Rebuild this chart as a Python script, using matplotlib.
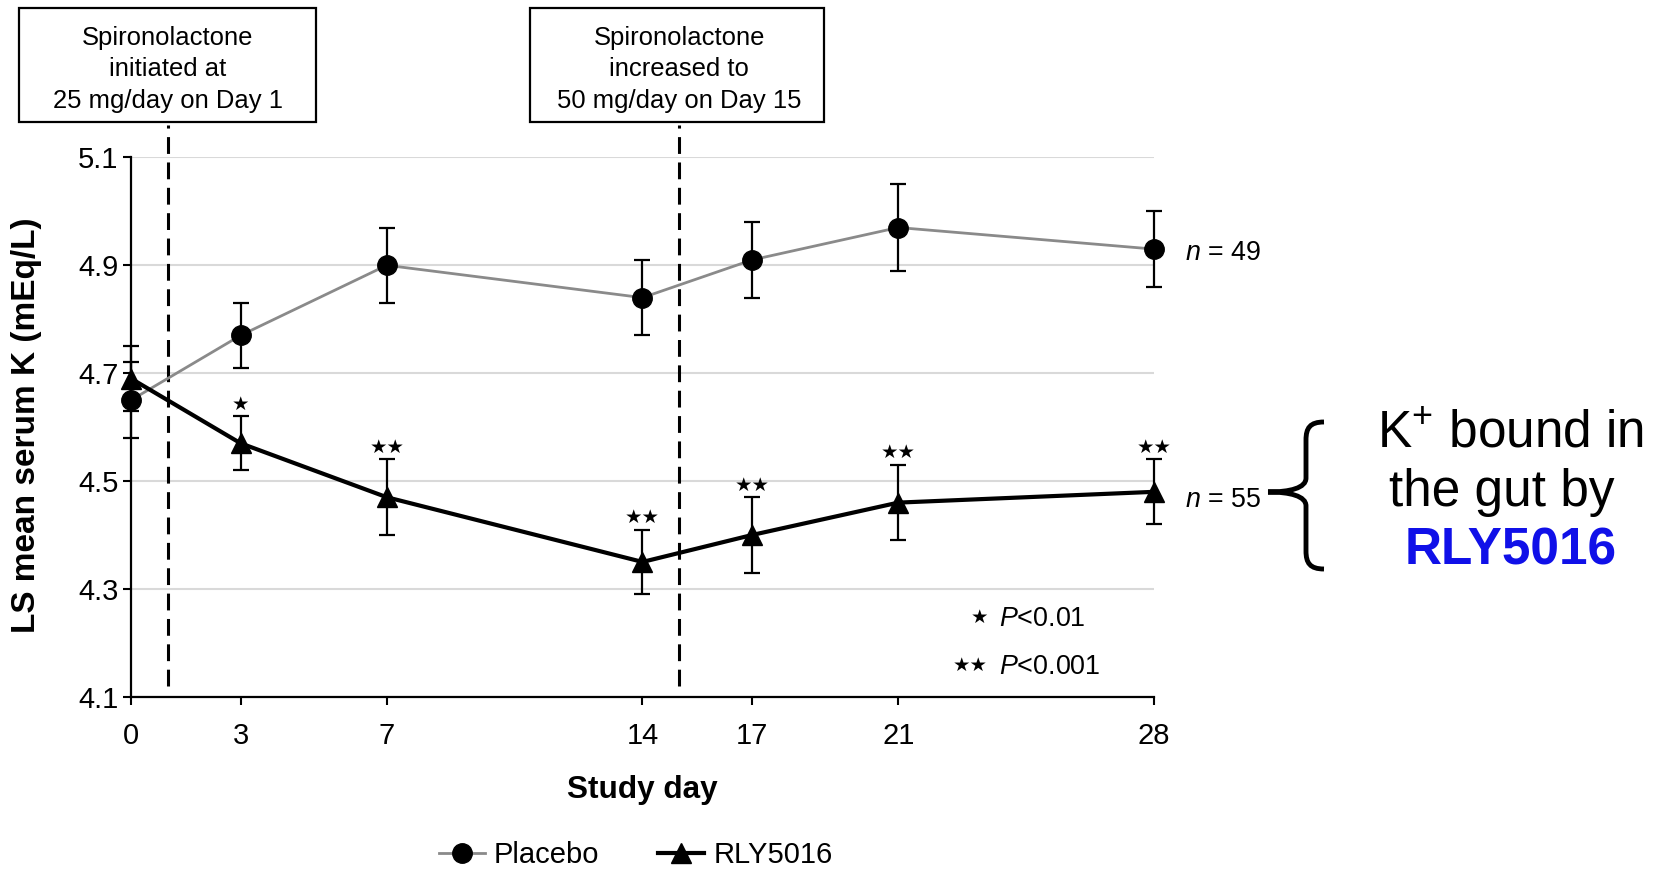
import matplotlib
matplotlib.use("Agg")
import matplotlib.pyplot as plt
import matplotlib.font_manager as fm
from matplotlib.lines import Line2D
from matplotlib.patches import Rectangle, PathPatch
from matplotlib.path import Path
from matplotlib.transforms import Affine2D

# ---------------- data ----------------
days = [0, 3, 7, 14, 17, 21, 28]
placebo_mean = [4.65, 4.77, 4.90, 4.84, 4.91, 4.97, 4.93]
placebo_err = [0.07, 0.06, 0.07, 0.07, 0.07, 0.08, 0.07]
rly_mean = [4.69, 4.57, 4.47, 4.35, 4.40, 4.46, 4.48]
rly_err = [0.06, 0.05, 0.07, 0.06, 0.07, 0.07, 0.06]
rly_sig = ["", "\u2605", "\u2605\u2605", "\u2605\u2605", "\u2605\u2605",
           "\u2605\u2605", "\u2605\u2605"]
yticks = [4.1, 4.3, 4.5, 4.7, 4.9, 5.1]
ytick_labels = ["4.1", "4.3", "4.5", "4.7", "4.9", "5.1"]
event_days = [1, 15]
event_texts = ["Spironolactone\ninitiated at\n25 mg/day on Day 1",
               "Spironolactone\nincreased to\n50 mg/day on Day 15"]
n_placebo = 49
n_rly = 55

# ---------------- fonts ----------------
avail = {f.name for f in fm.fontManager.ttflist}
if "Liberation Sans Narrow" in avail:
    NARROW, k = "Liberation Sans Narrow", 1.0
else:
    NARROW, k = "Liberation Sans", 0.84
REG = "Liberation Sans"
STAR = "DejaVu Sans"
plt.rcParams["font.family"] = [NARROW, "DejaVu Sans"]
plt.rcParams["mathtext.fontset"] = "custom"
plt.rcParams["mathtext.it"] = NARROW + ":italic"
plt.rcParams["mathtext.rm"] = NARROW

W, H = 1668, 869
fig = plt.figure(figsize=(W / 100, H / 100), dpi=100)
ax = fig.add_axes([131 / W, 1 - 696.8 / H, 1023 / W, 539.4 / H])

# grid
ax.set_axisbelow(True)
ax.yaxis.grid(True, color="#d9d9d9", lw=1.5)

# placebo
ax.plot(days, placebo_mean, color="#8a8a8a", lw=2.0, marker="o", ms=14,
        mfc="black", mec="black", zorder=3, clip_on=False)
ax.errorbar(days, placebo_mean, yerr=placebo_err, fmt="none", ecolor="black",
            elinewidth=1.6, capsize=5.5, capthick=1.6, zorder=2, clip_on=False)
# RLY5016
ax.plot(days, rly_mean, color="black", lw=3.0, marker="^", ms=14,
        mfc="black", mec="black", zorder=4, clip_on=False)
ax.errorbar(days, rly_mean, yerr=rly_err, fmt="none", ecolor="black",
            elinewidth=1.6, capsize=5.5, capthick=1.6, zorder=2, clip_on=False)

# significance stars
for d, m, e, s in zip(days, rly_mean, rly_err, rly_sig):
    if s:
        ax.annotate(s, (d, m + e), xytext=(0, 2), textcoords="offset points",
                    ha="center", va="bottom", fontsize=14, family=STAR)

# event dashed lines + boxes
for d, t in zip(event_days, event_texts):
    ax.plot([d, d], [4.12, 5.16], color="black", lw=2.2, ls=(0, (5.5, 2.8)),
            clip_on=False, zorder=1)
    ax.text(d, 5.1 + (157.4 - 69.5) / 539.4, t, ha="center", va="center",
            fontsize=22 * k, linespacing=1.42, clip_on=False)
fig.patches.append(Rectangle((19 / W, 1 - 122 / H), 297 / W, 113.5 / H,
                             transform=fig.transFigure, fill=False,
                             ec="black", lw=1.6))
fig.patches.append(Rectangle((530 / W, 1 - 122 / H), 294 / W, 113.5 / H,
                             transform=fig.transFigure, fill=False,
                             ec="black", lw=1.6))

# n labels
ax.annotate(r"$\mathit{n}$ = %d" % n_placebo, (days[-1], placebo_mean[-1]),
            xytext=(22, -3), textcoords="offset points", ha="left", va="center",
            fontsize=23 * k, annotation_clip=False)
ax.annotate(r"$\mathit{n}$ = %d" % n_rly, (days[-1], rly_mean[-1]),
            xytext=(22, -6), textcoords="offset points", ha="left", va="center",
            fontsize=23 * k, annotation_clip=False)

# P-value key
ax.text(23.45, 4.247, "\u2605", ha="right", va="center", fontsize=14, family=STAR)
ax.text(23.75, 4.244, r"$\mathit{P}$<0.01", ha="left", va="center", fontsize=23 * k)
ax.text(23.45, 4.158, "\u2605\u2605", ha="right", va="center", fontsize=14,
        family=STAR)
ax.text(23.75, 4.155, r"$\mathit{P}$<0.001", ha="left", va="center", fontsize=23 * k)

# axes styling
ax.set_xlim(0, 28)
ax.set_ylim(4.1, 5.1)
ax.set_xticks(days)
ax.set_xticklabels([str(d) for d in days])
ax.set_yticks(yticks)
ax.set_yticklabels(ytick_labels)
for sp in ["top", "right"]:
    ax.spines[sp].set_visible(False)
for sp in ["left", "bottom"]:
    ax.spines[sp].set_linewidth(1.6)
ax.tick_params(axis="both", direction="out", length=6, width=1.5,
               labelsize=25 * k)
ax.tick_params(axis="x", pad=12)
ax.tick_params(axis="y", pad=3)

ax.set_xlabel("Study day", fontsize=27 * k, fontweight="bold")
ax.xaxis.set_label_coords(0.5, -0.172)
ax.xaxis.label.set_va("center")
ax.set_ylabel("LS mean serum K (mEq/L)", fontsize=24, fontweight="bold", family=REG)
ax.yaxis.set_label_coords(-0.102, 0.503)
ax.yaxis.label.set_va("center")

# legend
handles = [Line2D([], [], color="#8a8a8a", lw=2.0, marker="o", ms=14,
                  mfc="black", mec="black"),
           Line2D([], [], color="black", lw=3.0, marker="^", ms=14,
                  mfc="black", mec="black")]
fig.legend(handles, ["Placebo", "RLY5016"], loc="center",
           bbox_to_anchor=(0.381, 0.016), ncol=2, frameon=False,
           fontsize=25 * k, handlelength=1.6, handletextpad=0.3,
           columnspacing=2.0, borderpad=0)

# brace + annotation
verts = [(1324, 422), (1310, 422), (1306, 428), (1306, 440),
         (1306, 478),
         (1306, 488), (1290, 492), (1268, 492),
         (1290, 492), (1306, 496), (1306, 506),
         (1306, 551),
         (1306, 563), (1310, 569), (1324, 569)]
codes = [Path.MOVETO, Path.CURVE4, Path.CURVE4, Path.CURVE4,
         Path.LINETO,
         Path.CURVE4, Path.CURVE4, Path.CURVE4,
         Path.CURVE4, Path.CURVE4, Path.CURVE4,
         Path.LINETO,
         Path.CURVE4, Path.CURVE4, Path.CURVE4]
tr = Affine2D().scale(1 / W, -1 / H).translate(0, 1) + fig.transFigure
fig.patches.append(PathPatch(Path(verts, codes), fill=False, lw=3.5,
                             ec="black", transform=tr, capstyle="butt"))
fig.text(1511 / W, 1 - 434 / H, r"K$^{\mathregular{+}}$ bound in", ha="center",
         va="center", fontsize=37, family=REG)
fig.text(1502 / W, 1 - 492.5 / H, "the gut by", ha="center", va="center",
         fontsize=37, family=REG)
fig.text(1511 / W, 1 - 551 / H, "RLY5016", ha="center", va="center",
         fontsize=37, fontweight="bold", color="#1010E8", family=REG)

fig.savefig("out.png", dpi=100)
